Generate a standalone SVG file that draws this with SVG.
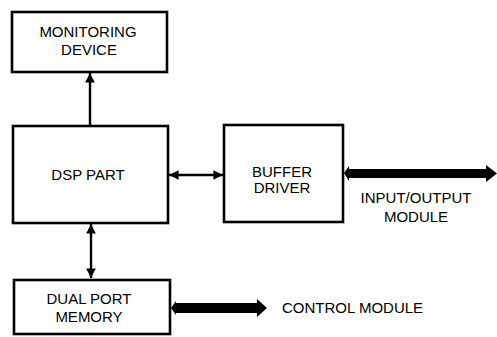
<svg xmlns="http://www.w3.org/2000/svg" width="497" height="337" viewBox="0 0 497 337">
<defs>
<marker id="ah" viewBox="0 0 10 10" refX="10" refY="5" markerWidth="4" markerHeight="4" orient="auto-start-reverse" markerUnits="strokeWidth">
<path d="M0,0 L10,5 L0,10 z" fill="#000"/>
</marker>
<style>
.box{fill:#fff;stroke:#000;stroke-width:2.6}
.t{font-family:"Liberation Sans",Arial,sans-serif;font-size:15px;fill:#000;text-anchor:middle}
.ln{stroke:#000;stroke-width:2.4;fill:none}
.thick{fill:#000}
</style>
</defs>
<rect width="497" height="337" fill="#fff"/>
<g id="connectors">
<line class="ln" x1="90" y1="126" x2="90" y2="73" marker-end="url(#ah)"/>
<line class="ln" x1="169" y1="175" x2="223" y2="175" marker-start="url(#ah)" marker-end="url(#ah)"/>
<line class="ln" x1="91" y1="224" x2="91" y2="278" marker-start="url(#ah)" marker-end="url(#ah)"/>
<polygon class="thick" points="344,173 349,166 349,169 486,169 486,165 497,173.5 486,182 486,178 349,178 349,181"/>
<polygon class="thick" points="171,308 176,301 176,303 257,303 257,299 267,308 257,317 257,313 176,313 176,315"/>
</g>
<g id="monitoring">
<rect class="box" x="12" y="12" width="155" height="60"/>
<text class="t" x="88" y="37">MONITORING</text>
<text class="t" x="89" y="55">DEVICE</text>
</g>
<g id="dsp">
<rect class="box" x="13" y="126" width="155" height="97"/>
<text class="t" x="88" y="180">DSP PART</text>
</g>
<g id="buffer">
<rect class="box" x="224" y="125" width="119" height="97"/>
<text class="t" x="282" y="177">BUFFER</text>
<text class="t" x="282" y="193">DRIVER</text>
</g>
<g id="dualport">
<rect class="box" x="14" y="280" width="156" height="54"/>
<text class="t" x="89" y="304">DUAL PORT</text>
<text class="t" x="89" y="322">MEMORY</text>
</g>
<g id="labels">
<text class="t" x="416" y="203">INPUT/OUTPUT</text>
<text class="t" x="416" y="222">MODULE</text>
<text class="t" x="282" y="313" style="text-anchor:start">CONTROL MODULE</text>
</g>
</svg>
